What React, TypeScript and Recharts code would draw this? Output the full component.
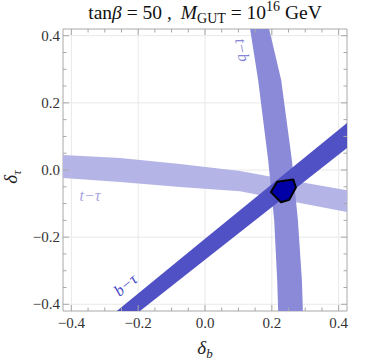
import { ScatterChart, Scatter, XAxis, YAxis, CartesianGrid, Customized } from "recharts";

// Achsen: Mathematica-Frame mit kleinem Padding um ±0.4
const X_DOMAIN: [number, number] = [-0.425, 0.425];
const Y_DOMAIN: [number, number] = [-0.42, 0.42];
const TICKS = [-0.4, -0.35, -0.3, -0.25, -0.2, -0.15, -0.1, -0.05, 0, 0.05, 0.1, 0.15, 0.2, 0.25, 0.3, 0.35, 0.4];
const MAJOR_TICKS = [-0.4, -0.2, 0, 0.2, 0.4];

// t–τ Band (fast horizontal): obere / untere Kante
const tTauX = [-0.425, -0.254, -0.075, 0.105, 0.284, 0.425];
const tTauUpper = [0.045, 0.036, 0.018, -0.003, -0.036, -0.06];
const tTauLower = [-0.024, -0.036, -0.051, -0.063, -0.098, -0.125];

// t–b Band (fast vertikal): linke / rechte Kante je y
const tbY = [0.42, 0.268, 0.03, -0.149, -0.328, -0.42];
const tbLeft = [0.135, 0.159, 0.189, 0.207, 0.216, 0.219];
const tbRight = [0.192, 0.228, 0.26, 0.278, 0.29, 0.293];

// b–τ Band (diagonal)
const bTauX = [-0.264, 0.0, 0.425];
const bTauUpper = [-0.42, -0.205, 0.14];
const bTauLowerX = [-0.1945, 0.0, 0.425];
const bTauLower = [-0.42, -0.2675, 0.0655];

// Schnittmenge aller drei Bänder (Sechseck)
const hexX = [0.197, 0.216, 0.264, 0.272, 0.252, 0.2275];
const hexY = [-0.066, -0.035, -0.028, -0.052, -0.089, -0.096];

const C_TTAU = "#b4b4e6";
const C_TB = "#8a8ad8";
const C_BTAU = "#5151c6";
const C_HEX = "#0000a6";
const AXIS_GRAY = "#a8a8a8";
const FONT = "'Liberation Serif', 'DejaVu Serif', serif";

const tTauData = [
  ...tTauX.map((x, i) => ({ x, y: tTauUpper[i] })),
  ...tTauX.map((x, i) => ({ x, y: tTauLower[i] })).reverse(),
];
const tbData = [
  ...tbY.map((y, i) => ({ x: tbLeft[i], y })),
  ...tbY.map((y, i) => ({ x: tbRight[i], y })).reverse(),
];
const bTauData = [
  ...bTauX.map((x, i) => ({ x, y: bTauUpper[i] })),
  ...bTauLowerX.map((x, i) => ({ x, y: bTauLower[i] })).reverse(),
];
const hexData = hexX.map((x, i) => ({ x, y: hexY[i] }));

const isMajor = (v: number) => MAJOR_TICKS.some((m) => Math.abs(m - v) < 1e-9);
const fmt = (v: number) => (v < -1e-9 ? "\u2212" : "") + Math.abs(v).toFixed(1);

// Polygon über die vom Scatter berechneten Pixelpunkte
const polygon = (fill: string, stroke = "none", strokeWidth = 0) => (props: any) => (
  <polygon
    points={(props.points || []).map((p: any) => `${p.x},${p.y}`).join(" ")}
    fill={fill}
    stroke={stroke}
    strokeWidth={strokeWidth}
    strokeLinejoin="round"
  />
);

const noDot = () => <g />;

function BottomTick({ x, y, payload }: any) {
  const v = payload.value;
  const major = isMajor(v);
  return (
    <g>
      <line x1={x} y1={y} x2={x} y2={y - (major ? 6 : 3.5)} stroke={AXIS_GRAY} />
      {major && (
        <text x={x} y={y + 17} textAnchor="middle" fontSize={15} fontFamily={FONT} fill="#333">
          {fmt(v)}
        </text>
      )}
    </g>
  );
}

function TopTick({ x, y, payload }: any) {
  const major = isMajor(payload.value);
  return <line x1={x} y1={y} x2={x} y2={y + (major ? 6 : 3.5)} stroke={AXIS_GRAY} />;
}

function LeftTick({ x, y, payload }: any) {
  const v = payload.value;
  const major = isMajor(v);
  return (
    <g>
      <line x1={x} y1={y} x2={x + (major ? 6 : 3.5)} y2={y} stroke={AXIS_GRAY} />
      {major && (
        <text x={x - 3} y={y + 5} textAnchor="end" fontSize={15} fontFamily={FONT} fill="#333">
          {fmt(v)}
        </text>
      )}
    </g>
  );
}

function RightTick({ x, y, payload }: any) {
  const major = isMajor(payload.value);
  return <line x1={x} y1={y} x2={x - (major ? 6 : 3.5)} y2={y} stroke={AXIS_GRAY} />;
}

function Texts() {
  return (
    <g fontFamily={FONT}>
      <text x={205} y={19} textAnchor="middle" fontSize={19.5} fill="#111">
        tan<tspan fontStyle="italic">β</tspan>
        <tspan> = 50 ,</tspan>
        <tspan dx={9} fontStyle="italic">M</tspan>
        <tspan fontSize={14} dy={4}>GUT</tspan>
        <tspan dy={-4}> = 10</tspan>
        <tspan fontSize={14} dy={-8}>16</tspan>
        <tspan dy={8}> GeV</tspan>
      </text>
      <text x={205} y={354} textAnchor="middle" fontSize={19} fontStyle="italic" fill="#222">
        δ<tspan fontSize={13} dy={4}>b</tspan>
      </text>
      <text transform="translate(17,177) rotate(-90)" textAnchor="middle" fontSize={19} fontStyle="italic" fill="#222">
        δ<tspan fontSize={13} dy={4}>τ</tspan>
      </text>
      <text x={90} y={201} textAnchor="middle" fontSize={16} fontStyle="italic" fill="#a6a6e2">
        t−τ
      </text>
      <text transform="translate(237,51) rotate(80)" textAnchor="middle" fontSize={16} fontStyle="italic" fill="#8686d6">
        t−b
      </text>
      <text transform="translate(129,289) rotate(-40)" textAnchor="middle" fontSize={16} fontStyle="italic" fill="#4c4cc8">
        b−τ
      </text>
    </g>
  );
}

export default function App() {
  return (
    <div style={{ position: "absolute", left: 0, top: 0, width: 374, height: 361, background: "#fff" }}>
      {/* Achsen mit 1px Breite/Höhe, sonst zeichnet Recharts sie gar nicht */}
      <ScatterChart width={374} height={361} margin={{ top: 28, right: 26, bottom: 49, left: 62 }}>
        <CartesianGrid
          horizontalValues={MAJOR_TICKS}
          verticalValues={MAJOR_TICKS}
          stroke="#e8e8e8"
          strokeDasharray=""
        />
        <Scatter data={tTauData} line={polygon(C_TTAU)} lineType="joint" shape={noDot} isAnimationActive={false} />
        <Scatter data={tbData} line={polygon(C_TB)} lineType="joint" shape={noDot} isAnimationActive={false} />
        <Scatter data={bTauData} line={polygon(C_BTAU)} lineType="joint" shape={noDot} isAnimationActive={false} />
        <Scatter data={hexData} line={polygon(C_HEX, "#000", 2)} lineType="joint" shape={noDot} isAnimationActive={false} />
        <XAxis
          type="number"
          dataKey="x"
          domain={X_DOMAIN}
          allowDataOverflow
          ticks={TICKS}
          interval={0}
          height={1}
          tickSize={0}
          tickMargin={0}
          tick={<BottomTick />}
          axisLine={{ stroke: AXIS_GRAY }}
        />
        <XAxis
          xAxisId="top"
          orientation="top"
          type="number"
          dataKey="x"
          domain={X_DOMAIN}
          allowDataOverflow
          ticks={TICKS}
          interval={0}
          height={1}
          tickSize={0}
          tickMargin={0}
          tick={<TopTick />}
          axisLine={{ stroke: AXIS_GRAY }}
        />
        <YAxis
          type="number"
          dataKey="y"
          domain={Y_DOMAIN}
          allowDataOverflow
          ticks={TICKS}
          interval={0}
          width={1}
          tickSize={0}
          tickMargin={0}
          tick={<LeftTick />}
          axisLine={{ stroke: AXIS_GRAY }}
        />
        <YAxis
          yAxisId="right"
          orientation="right"
          type="number"
          dataKey="y"
          domain={Y_DOMAIN}
          allowDataOverflow
          ticks={TICKS}
          interval={0}
          width={1}
          tickSize={0}
          tickMargin={0}
          tick={<RightTick />}
          axisLine={{ stroke: AXIS_GRAY }}
        />
        <Customized component={<Texts />} />
      </ScatterChart>
    </div>
  );
}
